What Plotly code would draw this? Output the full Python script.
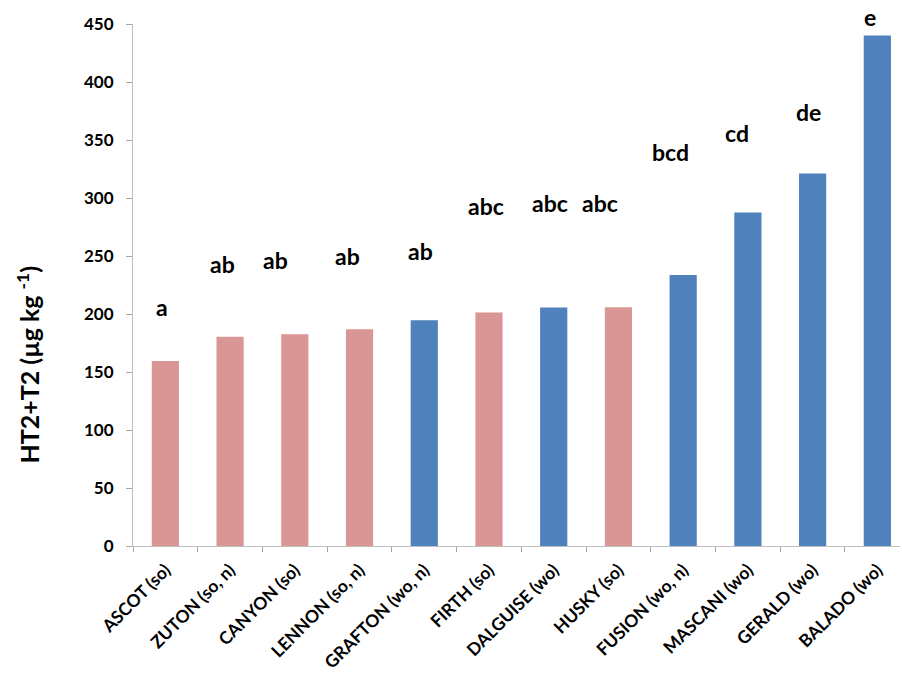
import plotly.graph_objects as go

cultivars = ["ASCOT (so)", "ZUTON (so, n)", "CANYON (so)", "LENNON (so, n)", "GRAFTON (wo, n)",
             "FIRTH (so)", "DALGUISE (wo)", "HUSKY (so)", "FUSION (wo, n)", "MASCANI (wo)",
             "GERALD (wo)", "BALADO (wo)"]
season = ["so", "so", "so", "so", "wo", "so", "wo", "so", "wo", "wo", "wo", "wo"]
ht2_t2 = [159.5, 180.3, 182.6, 186.9, 194.7, 201.2, 205.7, 205.9, 233.6, 287.5, 321.2, 440.0]
letters = ["a", "ab", "ab", "ab", "ab", "abc", "abc", "abc", "bcd", "cd", "de", "e"]
letter_y = [206, 243, 246.5, 250, 254, 293, 296, 296, 340, 356, 374, 456]
y_ticks = [0, 50, 100, 150, 200, 250, 300, 350, 400, 450]
y_title = "HT2+T2 (µg kg <sup>-1</sup>)"
Y_MAX = 450

PINK = "#D99694"
BLUE = "#4F81BD"
colors = [PINK if s == "so" else BLUE for s in season]
letter_xshift = [-3, -8, -19, -12, -4, -3, -4, -18, -13, -11, -4, -7]

fig = go.Figure()
fig.add_trace(go.Bar(x=cultivars, y=ht2_t2, marker=dict(color=colors, line=dict(width=0)),
                     width=0.42, showlegend=False))

for i, (c, lab, ly) in enumerate(zip(cultivars, letters, letter_y)):
    fig.add_annotation(x=c, xref="x", y=ly / Y_MAX, yref="paper", text=lab, showarrow=False,
                       xshift=letter_xshift[i],
                       font=dict(family="Lato", size=23, color="black", weight="bold"),
                       xanchor="center", yanchor="middle")

# y-axis title (placed lower than the axis centre, as in the original)
fig.add_annotation(x=-0.136, xref="paper", y=0.347, yref="paper", text=y_title,
                   textangle=-90, showarrow=False, xanchor="center", yanchor="middle",
                   font=dict(family="Lato", size=25, color="black", weight="bold"))

fig.update_layout(
    width=902, height=675,
    margin=dict(l=133, r=2, t=24, b=127),
    plot_bgcolor="white", paper_bgcolor="white",
    font=dict(family="Lato", color="black"),
)
fig.update_xaxes(
    range=[-0.5, 11.35], tickson="boundaries", ticks="outside", ticklen=5, tickcolor="#A6A6A6",
    showline=True, linecolor="#BFBFBF", linewidth=1, showgrid=False, tickangle=-45,
    ticklabelstandoff=6,
    tickfont=dict(family="Lato", size=17.5, color="black", weight="bold"),
)
fig.update_yaxes(
    range=[0, Y_MAX], tickvals=y_ticks, ticks="outside", ticklen=6, tickcolor="#A6A6A6",
    showline=True, linecolor="#BFBFBF", linewidth=1, showgrid=False, zeroline=False,
    ticklabelstandoff=9,
    tickfont=dict(family="Lato", size=17, color="black", weight="bold"),
)

fig.write_html("out.html", config={"displayModeBar": False},
               post_script="document.body.style.margin='0';document.body.style.overflow='hidden';")
